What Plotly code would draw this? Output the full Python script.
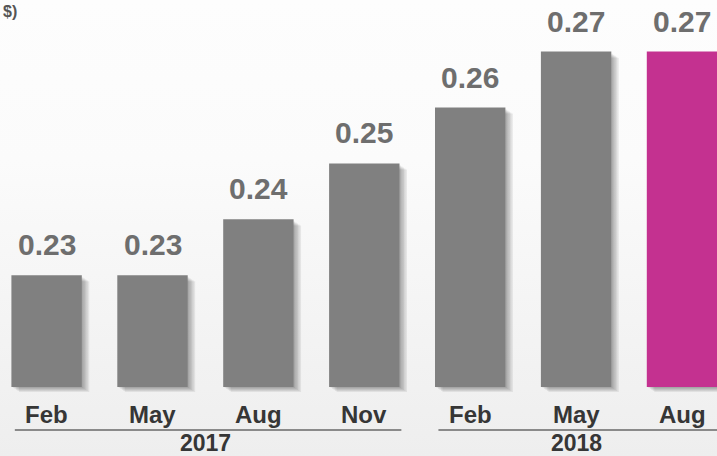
import base64
import plotly.graph_objects as go

# Quarterly dividend per share
months = ["Feb", "May", "Aug", "Nov", "Feb", "May", "Aug"]
years = ["2017", "2017", "2017", "2017", "2018", "2018", "2018"]
dividends = [0.23, 0.23, 0.24, 0.25, 0.26, 0.27, 0.27]
bar_colors = ["#808080"] * 6 + ["#c43190"]
unit_label = "$)"

W, H = 717, 456
x_pos = list(range(len(months)))

# Axis scaling: 0.01 of dividend ~ 55.9 px; bars rise from a 0.21 floor
px_per_unit = 55.9 / 0.01
floor = 0.21
floor_px = 387
y_top = floor + floor_px / px_per_unit
y_bot = floor - (H - floor_px) / px_per_unit
slot_px = 105.9
first_px = 46.6
x_lo = -first_px / slot_px
x_hi = (W - first_px) / slot_px
bar_w = 70.4 / slot_px

fig = go.Figure()

# soft drop shadow built from a few offset translucent layers
for k in range(1, 6):
    dx = k * 1.5 / slot_px
    dy = k * 1.0 / px_per_unit
    fig.add_trace(go.Bar(
        x=x_pos,
        y=[v - floor - 0.0002 for v in dividends],
        base=floor - dy,
        width=bar_w,
        offset=-bar_w / 2 + dx,
        marker=dict(color="rgba(0,0,0,0.07)", line=dict(width=0)),
        hoverinfo="skip",
        showlegend=False,
    ))

fig.add_trace(go.Bar(
    x=x_pos,
    y=[v - floor for v in dividends],
    base=floor,
    width=bar_w,
    offset=-bar_w / 2,
    marker=dict(color=bar_colors, line=dict(width=0)),
    customdata=dividends,
    hovertemplate="%{customdata:.2f}<extra></extra>",
    showlegend=False,
))

label_font = dict(family="Liberation Sans, Arial, sans-serif", weight="bold")

annotations = []
for i, v in enumerate(dividends):
    annotations.append(dict(
        x=i, y=v, xref="x", yref="y", text=f"{v:.2f}", showarrow=False,
        yanchor="bottom", yshift=12,
        font=dict(size=30, color="#6e6e6e", **label_font),
    ))
    annotations.append(dict(
        x=i, y=1 - 414 / H, xref="x", yref="paper", text=months[i],
        showarrow=False, yanchor="middle",
        font=dict(size=24, color="#363636", **label_font),
    ))

# year groups: label centred under its months, with a rule above it
shapes = []
groups = []
for i, yr in enumerate(years):
    if not groups or groups[-1][0] != yr:
        groups.append([yr, i, i])
    else:
        groups[-1][2] = i
for yr, a, b in groups:
    annotations.append(dict(
        x=(a + b) / 2, y=1 - 443 / H, xref="x", yref="paper", text=yr,
        showarrow=False, yanchor="middle",
        font=dict(size=23, color="#363636", **label_font),
    ))
    shapes.append(dict(
        type="line", xref="x", yref="paper",
        x0=a - 0.3, x1=b + 0.35, y0=1 - 430 / H, y1=1 - 430 / H,
        line=dict(color="#8a8a8a", width=2),
    ))

annotations.append(dict(
    x=1 / W, y=1 - 11 / H, xref="paper", yref="paper", text=unit_label,
    showarrow=False, xanchor="left", yanchor="middle",
    font=dict(size=16, color="#555555", **label_font),
))

# pale vertical background gradient
svg = (
    f'<svg xmlns="http://www.w3.org/2000/svg" width="{W}" height="{H}">'
    '<defs><linearGradient id="g" x1="0" y1="0" x2="0" y2="1">'
    '<stop offset="0" stop-color="#fdfdfd"/>'
    '<stop offset="0.35" stop-color="#fbfbfb"/>'
    '<stop offset="1" stop-color="#eeeeee"/>'
    '</linearGradient></defs>'
    f'<rect width="{W}" height="{H}" fill="url(#g)"/></svg>'
)
bg_src = "data:image/svg+xml;base64," + base64.b64encode(svg.encode()).decode()

fig.update_layout(
    width=W, height=H,
    margin=dict(l=0, r=0, t=0, b=0),
    paper_bgcolor="#f6f6f6",
    plot_bgcolor="rgba(0,0,0,0)",
    barmode="overlay",
    xaxis=dict(range=[x_lo, x_hi], visible=False, fixedrange=True),
    yaxis=dict(range=[y_bot, y_top], visible=False, fixedrange=True),
    annotations=annotations,
    shapes=shapes,
    images=[dict(
        source=bg_src, xref="paper", yref="paper", x=0, y=1,
        sizex=1, sizey=1, sizing="stretch", layer="below",
        xanchor="left", yanchor="top",
    )],
)

fig.write_html("out.html", config={"displayModeBar": False})
